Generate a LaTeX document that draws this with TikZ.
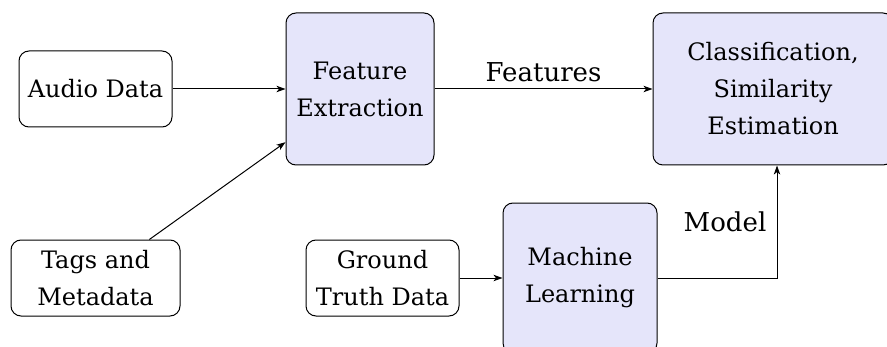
\documentclass[tikz,border=0pt]{standalone}
\usepackage{fontspec}
\setmainfont{DejaVu Serif}
\usetikzlibrary{arrows.meta}

\definecolor{procfill}{RGB}{229,229,250}

\tikzset{
  databox/.style={draw, rounded corners=5pt, line width=0.5pt, align=center,
    inner sep=0pt, fill=white},
  procbox/.style={databox, fill=procfill},
  arr/.style={-{Stealth[length=4.5pt,width=3.2pt,inset=1.2pt]}, line width=0.5pt},
  lbl/.style={inner sep=0pt, font=\fontsize{13}{16}\selectfont}
}

\begin{document}
\begin{tikzpicture}[x=0.5pt, y=-0.5pt,
  every node/.append style={font=\fontsize{12}{18.5}\selectfont}]
  \useasboundingbox (0,0) rectangle (887,347);
  \clip (0,0) rectangle (887,347);

  % input data
  \node[databox, minimum width=76.5pt, minimum height=38pt] (audio) at (95.5,89) {Audio Data};
  \node[databox, minimum width=84.5pt, minimum height=38pt] (tags) at (95.5,278) {Tags and\\Metadata};
  \node[databox, minimum width=76.5pt, minimum height=38pt] (truth) at (382.5,278) {Ground\\Truth Data};

  % processing stages
  \node[procbox, minimum width=74pt, minimum height=76pt] (fe) at (360,89) {Feature\\Extraction};
  \node[procbox, minimum width=120pt, minimum height=76pt] (cls) at (773,89) {Classification,\\Similarity\\Estimation};
  \node[procbox, minimum width=77pt, minimum height=75pt] (ml) at (580,278) {Machine\\Learning};

  % flows
  \draw[arr] (audio) -- (fe);
  \draw[arr] (tags) -- (fe);
  \draw[arr] (fe) -- node[lbl, midway, yshift=8.5pt] {Features} (cls);
  \draw[arr] (truth) -- (ml);
  \draw[arr] (ml.east) -| ([xshift=2pt]cls.south);
  \node[lbl] (model) at (725,222) {Model};
\end{tikzpicture}
\end{document}
